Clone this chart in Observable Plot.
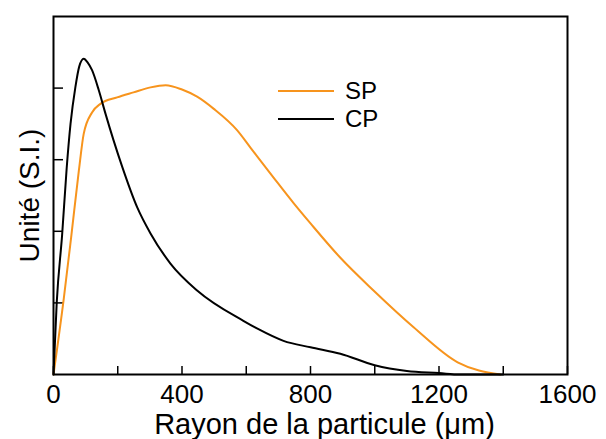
<!DOCTYPE html>
<html>
<head>
<meta charset="utf-8">
<script src="https://cdn.jsdelivr.net/npm/d3@7"></script>
<script src="https://cdn.jsdelivr.net/npm/@observablehq/plot@0.6"></script>
<style>
  html, body { margin: 0; padding: 0; background: white; }
  #wrap { position: relative; width: 606px; height: 439px; font-family: "Liberation Sans", Arial, sans-serif; }
  .leg { position: absolute; left: 278px; display: flex; align-items: center; font-size: 24px; color: black; }
  .leg span.sw { display: inline-block; width: 56px; height: 0; border-top: 2px solid; margin-right: 11px; }
</style>
</head>
<body>
<div id="wrap"></div>
<script>
// Data
const cpX = [0, 10, 27, 41, 53, 68, 80, 94, 106, 120, 141, 162, 187, 214, 261, 302, 364, 448, 591, 635, 716, 800, 893, 1000, 1100, 1200, 1265, 1400];
const cpY = [0, 1.0, 1.96, 2.88, 3.5, 4.01, 4.3, 4.41, 4.36, 4.25, 3.97, 3.64, 3.27, 2.9, 2.33, 1.97, 1.55, 1.17, 0.75, 0.64, 0.47, 0.38, 0.29, 0.13, 0.05, 0.02, 0, 0];
const spX = [0, 32, 55, 79, 94, 120, 146, 198, 249, 302, 349, 400, 447, 499, 572, 613, 685, 748, 800, 893, 997, 1121, 1258, 1391];
const spY = [0, 1.06, 1.92, 2.85, 3.36, 3.66, 3.78, 3.87, 3.94, 4.01, 4.04, 3.98, 3.88, 3.71, 3.41, 3.17, 2.75, 2.39, 2.11, 1.63, 1.17, 0.66, 0.17, 0];
const seriesNames = ["SP", "CP"];
const seriesColors = ["#f7941d", "#000000"];
const xTickLabels = [0, 400, 800, 1200, 1600];
const xMinorTicks = [0, 200, 400, 600, 800, 1000, 1200, 1400, 1600];
const yTicks = [1, 2, 3, 4];
const xLabel = "Rayon de la particule (\u03bcm)";
const yLabel = "Unité (S.I.)";

const sp = spX.map((x, i) => ({x, y: spY[i]}));
const cp = cpX.map((x, i) => ({x, y: cpY[i]}));

const chart = Plot.plot({
  width: 606,
  height: 439,
  marginLeft: 53,
  marginRight: 39,
  marginTop: 16,
  marginBottom: 65,
  style: {fontFamily: "'Liberation Sans', Arial, sans-serif", fontSize: "26px", color: "black", background: "white"},
  x: {domain: [0, 1600]},
  y: {domain: [0, 5]},
  marks: [
    Plot.axisX({ticks: xMinorTicks, tickSize: -8, tickFormat: () => "", label: null, strokeWidth: 1.5}),
    Plot.axisX({ticks: xTickLabels, tickSize: 0, tickPadding: 10, tickFormat: d => String(d), label: null}),
    Plot.axisY({ticks: yTicks, tickSize: -10, tickFormat: () => "", label: null, strokeWidth: 1.5}),
    Plot.line(sp, {x: "x", y: "y", stroke: seriesColors[0], strokeWidth: 2, curve: "monotone-x"}),
    Plot.line(cp, {x: "x", y: "y", stroke: seriesColors[1], strokeWidth: 2, curve: "monotone-x"}),
    Plot.frame({stroke: "black", strokeWidth: 2}),
    Plot.text([xLabel], {frameAnchor: "bottom", dx: 14, dy: 50, fontSize: 29, lineAnchor: "middle", text: d => d}),
    Plot.text([yLabel], {frameAnchor: "left", dx: -23, rotate: -90, fontSize: 28, textAnchor: "middle", text: d => d})
  ]
});
const wrap = document.getElementById("wrap");
wrap.appendChild(chart);
seriesNames.forEach((name, i) => {
  const d = document.createElement("div");
  d.className = "leg";
  d.style.top = (i === 0 ? 91 : 119) - 14 + "px";
  d.style.height = "28px";
  d.innerHTML = `<span class="sw" style="border-color:${seriesColors[i]}"></span>${name}`;
  wrap.appendChild(d);
});
</script>
</body>
</html>
